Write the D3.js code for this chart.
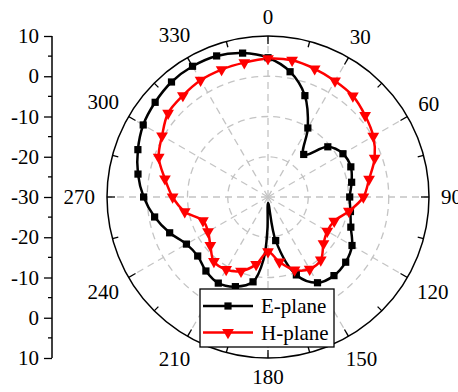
<!DOCTYPE html>
<html lang="en">

<head>
    <meta charset="UTF-8">
    <script src="https://d3js.org/d3.v7.min.js"></script>
    <style>
        body { margin: 0; background: #fff; }
        text { font-family: "Liberation Serif", "Times New Roman", "DejaVu Serif", serif; font-size: 21px; fill: #000; }
    </style>
    <title>polar pattern</title>
</head>

<body>
    <script>

        // angles in degrees, gain in dB
        var eAngles = [0, 10, 20, 30, 40, 50, 60, 70, 80, 90, 100, 110, 120, 130, 140, 150, 160, 170, 179, 181, 184,
            190, 200, 210, 220, 230, 240, 250, 260, 270, 280, 290, 300, 310, 320, 330, 340, 350]
        var eValues = [4.6, 1.6, -3.2, -10.2, -16.2, -10.6, -8.5, -8.1, -8.9, -9.7, -9.2, -8.1, -5.9, -4.8, -4.5, -5.4, -9.4, -19.0, -28.5, -22.0, -14.5,
            -8.6, -6.3, -5.3, -6.0, -7.2, -6.6, -4.0, -1.4, 0.9, 2.8, 4.4, 5.8, 6.6, 7.3, 7.5, 7.3, 6.3]

        var hAngles = [0, 10, 20, 30, 40, 50, 60, 70, 80, 90, 100, 110, 120, 130, 140, 150, 160, 170,
            180, 190, 200, 210, 220, 230, 240, 250, 260, 270, 280, 290, 300, 310, 320, 330, 340, 350]
        var hValues = [4.4, 4.5, 3.9, 3.3, 2.8, 1.5, 0.2, -1.8, -4.5, -6.3, -9.6, -12.5, -13.0, -12.0, -9.6, -9.3, -10.7, -13.6,
            -16.4, -13.0, -10.4, -9.2, -9.1, -11.3, -12.8, -12.8, -9.0, -6.3, -4.0, -1.1, 0.4, 2.4, 2.9, 3.5, 3.7, 3.9]

        var radialTicks = [-20, -10, 0]
        var angleLabels = [0, 30, 60, 90, 120, 150, 180, 210, 240, 270, 300, 330]
        var seriesNames = ["E-plane", "H-plane"]

        var width = 458,
            height = 392,
            cx = 268,
            cy = 197,
            R = 161

        var svg = d3.select("body").append("svg")
            .attr("width", width)
            .attr("height", height)

        var r = d3.scaleLinear().domain([-30, 10]).range([0, R])

        function toRad(a) { return a * Math.PI / 180 }

        var g = svg.append("g").attr("transform", "translate(" + cx + "," + cy + ")")

        // dashed grid circles
        g.selectAll(".gridCircle")
            .data(radialTicks)
            .join("circle")
            .attr("r", function (d) { return r(d) })
            .attr("fill", "none")
            .attr("stroke", "#c4c4c4")
            .attr("stroke-width", 1.3)
            .attr("stroke-dasharray", "7,5")

        // dashed spokes
        g.selectAll(".spoke")
            .data(angleLabels)
            .join("line")
            .attr("x1", 0).attr("y1", 0)
            .attr("x2", function (d) { return R * Math.sin(toRad(d)) })
            .attr("y2", function (d) { return -R * Math.cos(toRad(d)) })
            .attr("stroke", "#c4c4c4")
            .attr("stroke-width", 1.3)
            .attr("stroke-dasharray", "7,5")

        // outer circle
        g.append("circle")
            .attr("r", R)
            .attr("fill", "none")
            .attr("stroke", "#000")
            .attr("stroke-width", 1.5)

        // inward ticks every 15 degrees
        var tickAngles = d3.range(0, 360, 15)
        g.selectAll(".aTick")
            .data(tickAngles)
            .join("line")
            .attr("x1", function (d) { return R * Math.sin(toRad(d)) })
            .attr("y1", function (d) { return -R * Math.cos(toRad(d)) })
            .attr("x2", function (d) { var l = d % 30 === 0 ? 8 : 6; return (R - l) * Math.sin(toRad(d)) })
            .attr("y2", function (d) { var l = d % 30 === 0 ? 8 : 6; return -(R - l) * Math.cos(toRad(d)) })
            .attr("stroke", "#000")
            .attr("stroke-width", 1.3)

        // angle labels, pushed out so the near edge keeps a fixed gap to the circle
        g.selectAll(".aLabel")
            .data(angleLabels)
            .join("text")
            .attr("text-anchor", "middle")
            .attr("dominant-baseline", "central")
            .text(function (d) { return d })
            .each(function (d) {
                var w = this.getComputedTextLength()
                var s = Math.sin(toRad(d)), c = Math.cos(toRad(d))
                var dist = R + 12 + Math.abs(s) * w / 2 + Math.abs(c) * 7
                d3.select(this).attr("x", dist * s).attr("y", -dist * c)
            })

        // curves
        var line = d3.lineRadial()
            .angle(function (d) { return toRad(d[0]) })
            .radius(function (d) { return r(d[1]) })
            .curve(d3.curveCatmullRomClosed.alpha(0.5))

        var eData = eAngles.map(function (a, i) { return [a, eValues[i]] })
        var hData = hAngles.map(function (a, i) { return [a, hValues[i]] })

        var square = d3.symbol().type(d3.symbolSquare).size(52)
        var tri = d3.symbol().type(d3.symbolTriangle).size(60)

        g.append("path")
            .attr("d", line(eData))
            .attr("fill", "none")
            .attr("stroke", "#000")
            .attr("stroke-width", 2.5)

        g.append("path")
            .attr("d", line(hData))
            .attr("fill", "none")
            .attr("stroke", "#ff0000")
            .attr("stroke-width", 2.5)

        // markers only on whole 10 degree steps
        g.selectAll(".eMark")
            .data(eData.filter(function (d) { return d[0] % 10 === 0 }))
            .join("path")
            .attr("d", square)
            .attr("transform", function (d) {
                return "translate(" + r(d[1]) * Math.sin(toRad(d[0])) + "," + (-r(d[1]) * Math.cos(toRad(d[0]))) + ")"
            })
            .attr("fill", "#000")

        g.selectAll(".hMark")
            .data(hData)
            .join("path")
            .attr("d", tri)
            .attr("transform", function (d) {
                return "translate(" + r(d[1]) * Math.sin(toRad(d[0])) + "," + (-r(d[1]) * Math.cos(toRad(d[0]))) + ") rotate(180)"
            })
            .attr("fill", "#ff0000")

        // left mirrored radial axis
        var yAxisScale = d3.scaleLinear().domain([-40, 40]).range([cy - R, cy + R])
        var axisG = svg.append("g").attr("transform", "translate(52,0)")
        axisG.call(d3.axisLeft(yAxisScale)
            .tickValues(d3.range(-40, 41, 10))
            .tickSize(8)
            .tickPadding(5)
            .tickFormat(function (d) { return Math.abs(d) - 30 }))
        axisG.selectAll(".minor")
            .data(d3.range(-35, 40, 10))
            .join("line")
            .attr("x1", -4).attr("x2", 0)
            .attr("y1", function (d) { return yAxisScale(d) })
            .attr("y2", function (d) { return yAxisScale(d) })
            .attr("stroke", "#000")
            .attr("stroke-width", 1.3)
        axisG.select(".domain").attr("stroke-width", 1.5).attr("d", "M0," + (cy - R) + "V" + (cy + R))
        axisG.selectAll(".tick line").attr("stroke-width", 1.3)
        axisG.selectAll(".tick text")
            .style("font-family", "'Liberation Serif', 'Times New Roman', 'DejaVu Serif', serif")
            .style("font-size", "21px")

        // legend
        var legend = svg.append("g").attr("transform", "translate(200,289)")
        legend.append("rect")
            .attr("width", 134).attr("height", 58)
            .attr("fill", "#fff")
            .attr("stroke", "#000")
            .attr("stroke-width", 1.3)
        var colors = ["#000", "#ff0000"]
        var symbols = [square, tri]
        seriesNames.forEach(function (name, i) {
            var y = 17 + i * 26.5
            legend.append("line")
                .attr("x1", 3).attr("x2", 53)
                .attr("y1", y).attr("y2", y)
                .attr("stroke", colors[i])
                .attr("stroke-width", 2.5)
            legend.append("path")
                .attr("d", symbols[i])
                .attr("transform", "translate(28," + y + ")" + (i === 1 ? " rotate(180)" : ""))
                .attr("fill", colors[i])
            legend.append("text")
                .attr("x", 61).attr("y", y)
                .attr("dominant-baseline", "central")
                .text(name)
        })

    </script>
</body>

</html>
